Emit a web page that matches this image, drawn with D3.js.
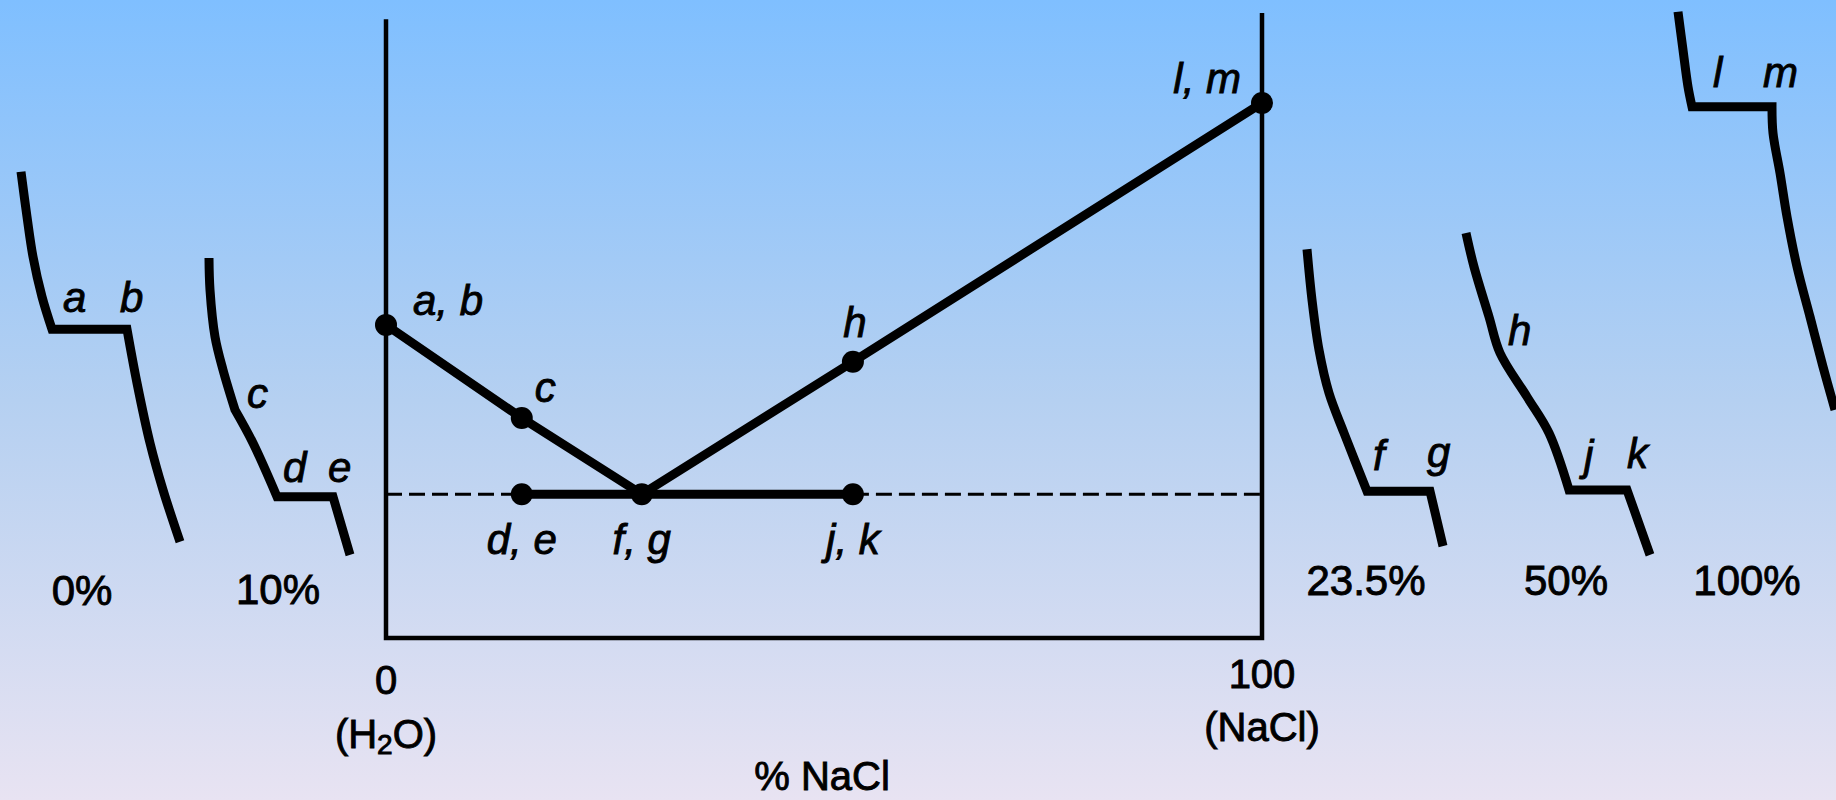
<!DOCTYPE html>
<html>
<head>
<meta charset="utf-8">
<script src="https://cdn.jsdelivr.net/npm/d3@7/dist/d3.min.js"></script>
<style>
  html, body { margin: 0; padding: 0; }
  body { width: 1836px; height: 800px; overflow: hidden; }
  svg text { font-family: "Liberation Sans", Arial, Helvetica, sans-serif; fill: #000; stroke: #000; stroke-width: 0.9px; }
  .pt-label, .cc-label { font-style: italic; font-size: 42px; }
  .pct-label { font-size: 42px; }
  .axis-label { font-size: 40px; }
</style>
</head>
<body>
<div id="chart-area"></div>
<script>
/*
*    NaCl - H2O phase diagram with cooling curves
*/

const WIDTH = 1836
const HEIGHT = 800

// ---- data (composition in % NaCl, temperature in arbitrary units) ----
const liquidusPct = [0, 15.5, 29.2, 53.3, 100]
const liquidusTemp = [50.1, 35.2, 23.0, 44.2, 85.6]
const liquidusLabels = ["a, b", "c", "f, g", "h", "l, m"]

const eutecticTemp = 23.0
const eutecticPct = [15.5, 29.2, 53.3]
const eutecticLabels = ["d, e", "f, g", "j, k"]

// cooling curves: [time, temperature]
const coolingNames = ["0%", "10%", "23.5%", "50%", "100%"]
const cooling0 = [[0, 74.6], [0.6, 67.4], [1.2, 61.0], [2.1, 54.6], [3.1, 49.4], [10.6, 49.4], [11.6, 40.8], [12.9, 31.2], [14.2, 23.7], [15.9, 15.4]]
const cooling10 = [[0, 60.8], [0.1, 55.7], [0.6, 48.2], [1.4, 42.9], [2.6, 36.5], [4.4, 31.2], [6.8, 22.6], [12.4, 22.6], [14.1, 13.3]]
const cooling235 = [[0, 62.2], [0.5, 54.1], [1.2, 46.1], [2.2, 39.2], [3.7, 32.8], [6.0, 23.5], [12.3, 23.5], [13.6, 14.7]]
const cooling50 = [[0, 64.8], [0.8, 59.4], [2.3, 51.4], [3.4, 45.6], [6.1, 38.6], [8.3, 32.8], [10.3, 23.7], [16.1, 23.7], [18.4, 13.3]]
const cooling100 = [[0, 100.2], [0.5, 94.1], [1.0, 88.2], [1.4, 85.0], [9.4, 85.0], [9.5, 80.8], [10.2, 74.4], [10.9, 67.4], [11.9, 59.4], [13.2, 51.4], [14.5, 43.4], [15.7, 36.5]]
const coolingCurves = [cooling0, cooling10, cooling235, cooling50, cooling100]
// sharp corners of each curve (index of the point): the start and end of the plateau,
// and for 10% the bend at c where the curve turns straight
const coolingCorners = [[4, 5], [4, 6, 7], [5, 6], [6, 7], [3, 4]]
// letters on the cooling curves, tied to a point index of each curve
const coolingLetters = [
  [["a", 4], ["b", 5]],
  [["c", 4], ["d", 6], ["e", 7]],
  [["f", 5], ["g", 6]],
  [["h", 3], ["j", 6], ["k", 7]],
  [["l", 3], ["m", 4]]
]

// ---- layout ----
const curveX0 = [21, 209, 1307, 1466, 1678]
const pctLabelX = [82, 278, 1366, 1566, 1747]
const pctLabelY = [605, 604, 595, 595, 595]
const letterOffsets = [
  [[11, -17], [-7, -17]],
  [[12, -2], [6, -15], [-5, -15]],
  [[6, -21], [-3, -24]],
  [[8, -8], [15, -20], [0, -22]],
  [[21, -20], [-9, -20]]
]
const liquidusOffsets = [[27, -10, "start"], [13, -16, "start"], [0, 0, "none"], [2, -25, "middle"], [-21, -10, "end"]]

const svg = d3.select("#chart-area").append("svg")
  .attr("width", WIDTH)
  .attr("height", HEIGHT)

// background gradient
const grad = svg.append("defs").append("linearGradient")
  .attr("id", "bg").attr("x1", 0).attr("y1", 0).attr("x2", 0).attr("y2", 1)
grad.append("stop").attr("offset", "0%").attr("stop-color", "#7fbfff")
grad.append("stop").attr("offset", "50%").attr("stop-color", "#b5d0f1")
grad.append("stop").attr("offset", "100%").attr("stop-color", "#e8e3f2")
svg.append("rect").attr("width", WIDTH).attr("height", HEIGHT).attr("fill", "url(#bg)")

// scales
const x = d3.scaleLinear().domain([0, 100]).range([386, 1262])
const y = d3.scaleLinear().domain([0, 100]).range([638, 13])
const t = d3.scaleLinear().domain([0, 1]).range([0, 10])

const line = d3.line()
  .x(d => x(d[0]))
  .y(d => y(d[1]))

// frame: two vertical axes and the bottom axis
svg.append("path")
  .attr("d", line([[0, 99], [0, 0], [100, 0], [100, 100]]))
  .attr("fill", "none")
  .attr("stroke", "#000")
  .attr("stroke-width", 4.5)
  .attr("stroke-linejoin", "miter")

// dashed eutectic extensions
const dashes = [[[0, eutecticTemp], [eutecticPct[0], eutecticTemp]],
                [[eutecticPct[2], eutecticTemp], [100, eutecticTemp]]]
svg.append("g").selectAll("path")
  .data(dashes)
  .enter().append("path")
    .attr("d", d => line(d))
    .attr("stroke", "#000")
    .attr("stroke-width", 3)
    .attr("stroke-dasharray", "16,7")
    .attr("fill", "none")

// solid eutectic line
svg.append("path")
  .attr("d", line([[eutecticPct[0], eutecticTemp], [eutecticPct[2], eutecticTemp]]))
  .attr("stroke", "#000")
  .attr("stroke-width", 9)
  .attr("fill", "none")

// liquidus
const liquidus = liquidusPct.map((p, i) => [p, liquidusTemp[i]])
svg.append("path")
  .attr("d", line(liquidus))
  .attr("stroke", "#000")
  .attr("stroke-width", 9)
  .attr("stroke-linejoin", "round")
  .attr("fill", "none")

// points
const points = liquidus.concat([[eutecticPct[0], eutecticTemp], [eutecticPct[2], eutecticTemp]])
svg.append("g").selectAll("circle")
  .data(points)
  .enter().append("circle")
    .attr("cx", d => x(d[0]))
    .attr("cy", d => y(d[1]))
    .attr("r", 11)
    .attr("fill", "#000")

// point labels
const ptLabels = svg.append("g")
liquidus.forEach((d, i) => {
  const o = liquidusOffsets[i]
  if (o[2] === "none") return
  ptLabels.append("text")
    .attr("class", "pt-label")
    .attr("x", x(d[0]) + o[0])
    .attr("y", y(d[1]) + o[1])
    .attr("text-anchor", o[2])
    .text(liquidusLabels[i])
})
eutecticPct.forEach((p, i) => {
  ptLabels.append("text")
    .attr("class", "pt-label")
    .attr("x", x(p))
    .attr("y", y(eutecticTemp) + 60)
    .attr("text-anchor", "middle")
    .text(eutecticLabels[i])
})

// x-axis labels
const axisLabels = svg.append("g").attr("class", "axis-label").attr("text-anchor", "middle")
axisLabels.append("text").attr("x", x(0)).attr("y", 694).text("0")
const h2o = axisLabels.append("text").attr("x", x(0)).attr("y", 748)
h2o.append("tspan").text("(H")
h2o.append("tspan").attr("font-size", "28px").attr("dy", 6).text("2")
h2o.append("tspan").attr("dy", -6).text("O)")
axisLabels.append("text").attr("x", x(100)).attr("y", 688).text("100")
axisLabels.append("text").attr("x", x(100)).attr("y", 741).text("(NaCl)")
axisLabels.append("text").attr("x", 822).attr("y", 790).text("% NaCl")

// cooling curves: smooth between the sharp corners
const cline = d3.line()
  .x(d => t(d[0]))
  .y(d => y(d[1]))
  .curve(d3.curveCatmullRom.alpha(0.5))

function coolingPath(curve, corners) {
  const cuts = [0].concat(corners, [curve.length - 1])
  let d = ""
  for (let i = 0; i < cuts.length - 1; i++) {
    const seg = cline(curve.slice(cuts[i], cuts[i + 1] + 1))
    d += i === 0 ? seg : seg.replace(/^M[^A-Za-z]*/, "")
  }
  return d
}

coolingCurves.forEach((curve, ci) => {
  const g = svg.append("g")
    .attr("transform", `translate(${curveX0[ci]}, 0)`)
  g.append("path")
    .attr("d", coolingPath(curve, coolingCorners[ci]))
    .attr("fill", "none")
    .attr("stroke", "#000")
    .attr("stroke-width", 9)
    .attr("stroke-linejoin", "miter")

  coolingLetters[ci].forEach((l, li) => {
    const p = curve[l[1]]
    const o = letterOffsets[ci][li]
    g.append("text")
      .attr("class", "cc-label")
      .attr("x", t(p[0]) + o[0])
      .attr("y", y(p[1]) + o[1])
      .text(l[0])
  })

  svg.append("text")
    .attr("class", "pct-label")
    .attr("x", pctLabelX[ci])
    .attr("y", pctLabelY[ci])
    .attr("text-anchor", "middle")
    .text(coolingNames[ci])
})
</script>
</body>
</html>
